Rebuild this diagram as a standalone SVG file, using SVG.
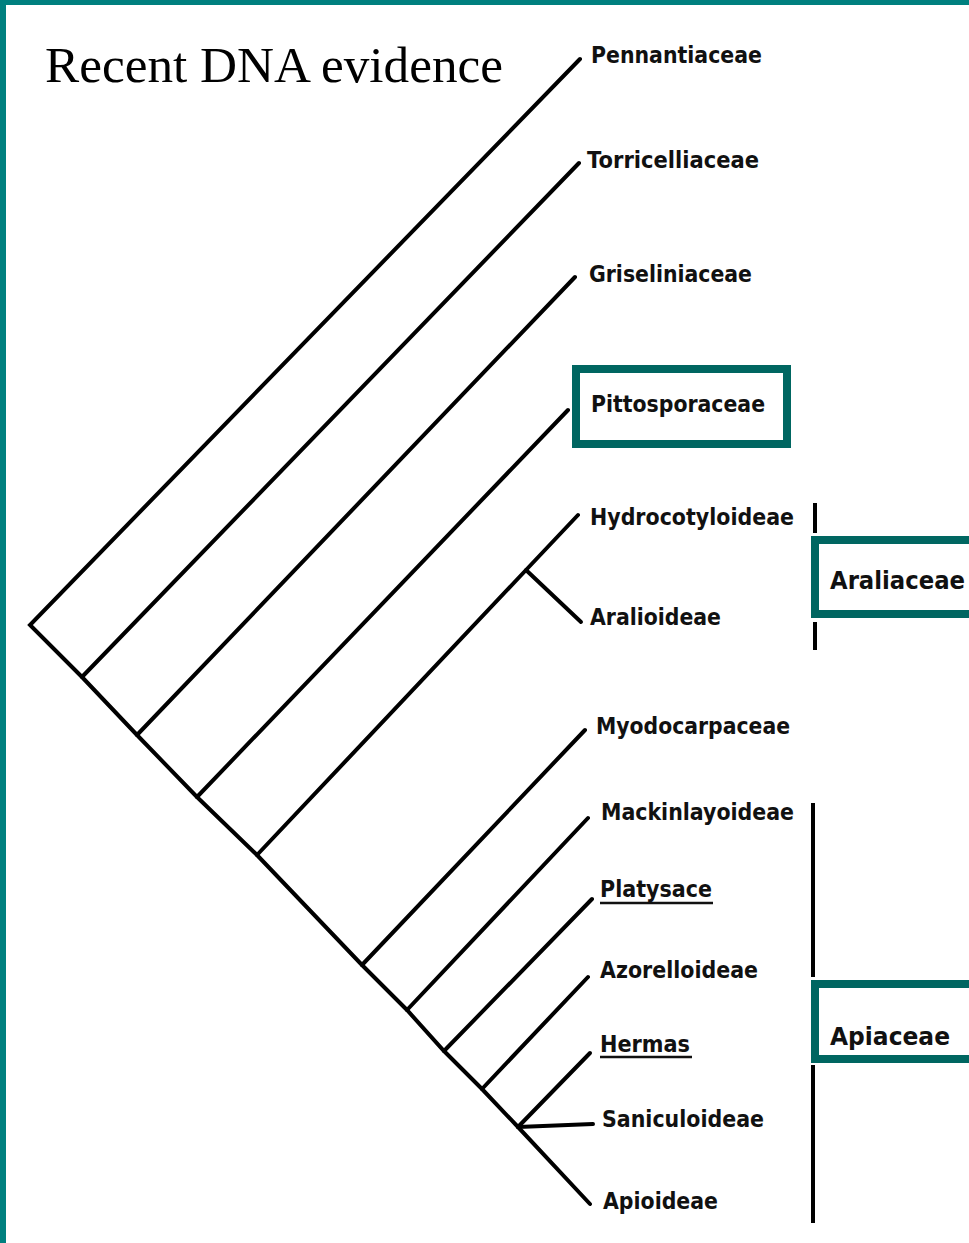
<svg xmlns="http://www.w3.org/2000/svg" width="969" height="1243" viewBox="0 0 969 1243">
<style>
.br{fill:none;stroke:#000;stroke-width:4;stroke-linecap:round;stroke-linejoin:miter}
.lb{font-family:"DejaVu Sans",Verdana,sans-serif;font-weight:bold;font-size:22.5px;fill:#111}
.big{font-family:"DejaVu Sans",Verdana,sans-serif;font-weight:bold;font-size:25px;fill:#111}
.box{fill:#fff;stroke:#006661;stroke-width:8}
.bar{stroke:#000;stroke-width:4}
.ul{stroke:#111;stroke-width:2.5}
</style>
<rect x="0" y="0" width="969" height="1243" fill="#fff"/>
<rect x="0" y="0" width="969" height="5" fill="#00807f"/>
<rect x="0" y="0" width="6" height="1243" fill="#00807f"/>
<text id="title" x="45" y="82" font-family="'Liberation Serif','Times New Roman',serif" font-size="50" fill="#000" textLength="458" lengthAdjust="spacingAndGlyphs">Recent DNA evidence</text>
<g id="connectors">
<path class="br" d="M580,59 L30,625 L82,677 L137,735 L197,797 L257,855 L362,965 L407,1010 L444,1051 L482,1089 L518,1127 L590,1204"/>
<path class="br" d="M82,677 L579,163"/>
<path class="br" d="M137,735 L575,277"/>
<path class="br" d="M197,797 L568,410"/>
<path class="br" d="M257,855 L526,570 L578,515"/>
<path class="br" d="M526,570 L581,622"/>
<path class="br" d="M362,965 L585,730"/>
<path class="br" d="M407,1010 L588,818"/>
<path class="br" d="M444,1051 L592,899"/>
<path class="br" d="M482,1089 L588,977"/>
<path class="br" d="M518,1127 L590,1053"/>
<path class="br" d="M518,1127 L593,1124"/>
</g>
<g id="Pennantiaceae"><text class="lb" x="591" y="63" textLength="171" lengthAdjust="spacingAndGlyphs">Pennantiaceae</text></g>
<g id="Torricelliaceae"><text class="lb" x="587" y="168" textLength="172" lengthAdjust="spacingAndGlyphs">Torricelliaceae</text></g>
<g id="Griseliniaceae"><text class="lb" x="589" y="282" textLength="163" lengthAdjust="spacingAndGlyphs">Griseliniaceae</text></g>
<g id="Pittosporaceae">
<rect class="box" x="576" y="369" width="211" height="75"/>
<text class="lb" x="591" y="412" textLength="174" lengthAdjust="spacingAndGlyphs">Pittosporaceae</text>
</g>
<g id="Hydrocotyloideae"><text class="lb" x="590" y="525" textLength="204" lengthAdjust="spacingAndGlyphs">Hydrocotyloideae</text></g>
<g id="Aralioideae"><text class="lb" x="590" y="625" textLength="131" lengthAdjust="spacingAndGlyphs">Aralioideae</text></g>
<g id="Araliaceae">
<line class="bar" x1="815" y1="503" x2="815" y2="533"/>
<line class="bar" x1="815" y1="622" x2="815" y2="650"/>
<rect class="box" x="815" y="540" width="170" height="74"/>
<text class="big" x="830" y="589" textLength="135" lengthAdjust="spacingAndGlyphs">Araliaceae</text>
</g>
<g id="Myodocarpaceae"><text class="lb" x="596" y="734" textLength="194" lengthAdjust="spacingAndGlyphs">Myodocarpaceae</text></g>
<g id="Mackinlayoideae"><text class="lb" x="601" y="820" textLength="193" lengthAdjust="spacingAndGlyphs">Mackinlayoideae</text></g>
<g id="Platysace"><text class="lb" x="600" y="897" textLength="112" lengthAdjust="spacingAndGlyphs">Platysace</text><line class="ul" x1="600" y1="903" x2="713" y2="903"/></g>
<g id="Azorelloideae"><text class="lb" x="600" y="978" textLength="158" lengthAdjust="spacingAndGlyphs">Azorelloideae</text></g>
<g id="Hermas"><text class="lb" x="600" y="1052" textLength="90" lengthAdjust="spacingAndGlyphs">Hermas</text><line class="ul" x1="600" y1="1057" x2="692" y2="1057"/></g>
<g id="Saniculoideae"><text class="lb" x="602" y="1127" textLength="162" lengthAdjust="spacingAndGlyphs">Saniculoideae</text></g>
<g id="Apioideae"><text class="lb" x="603" y="1209" textLength="115" lengthAdjust="spacingAndGlyphs">Apioideae</text></g>
<g id="Apiaceae">
<line class="bar" x1="813" y1="803" x2="813" y2="977"/>
<line class="bar" x1="813" y1="1065" x2="813" y2="1223"/>
<rect class="box" x="815" y="984" width="170" height="75"/>
<text class="big" x="830" y="1045" textLength="120" lengthAdjust="spacingAndGlyphs">Apiaceae</text>
</g>
</svg>
